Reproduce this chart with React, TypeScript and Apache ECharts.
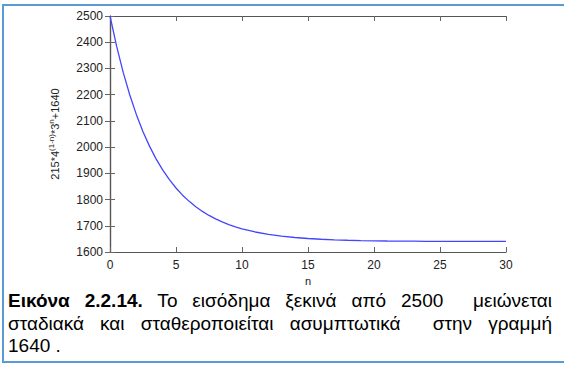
import React, { useEffect, useRef } from "react";
import * as echarts from "echarts";

const nValues = [0, 0.5, 1, 1.5, 2, 2.5, 3, 3.5, 4, 4.5, 5, 5.5, 6, 6.5, 7, 7.5, 8, 8.5, 9, 9.5, 10, 11, 12, 13, 14, 15, 16, 17, 18, 19, 20, 21, 22, 23, 24, 25, 26, 27, 28, 29, 30];
const incomeValues = [2500, 2384.8, 2285, 2198.6, 2123.8, 2058.9, 2002.8, 1954.2, 1912.1, 1875.7, 1844.1, 1816.7, 1793.1, 1772.6, 1754.8, 1739.4, 1726.1, 1714.6, 1704.6, 1695.9, 1688.4, 1676.3, 1667.2, 1660.4, 1655.3, 1651.5, 1648.6, 1646.5, 1644.8, 1643.6, 1642.7, 1642.0, 1641.5, 1641.2, 1640.9, 1640.6, 1640.5, 1640.4, 1640.3, 1640.2, 1640.2];
const xName = "n";
const captionBold = "Εικόνα 2.2.14.";
const captionLine1 = " Το εισόδημα ξεκινά από 2500  μειώνεται";
const captionLine2 = "σταδιακά και σταθεροποιείται ασυμπτωτικά  στην γραμμή";
const captionLine3 = "1640 .";

const axisFont = "'Liberation Sans', Arial, sans-serif";

export default function App() {
  const ref = useRef<HTMLDivElement>(null);
  useEffect(() => {
    if (!ref.current) return;
    const chart = echarts.init(ref.current, undefined, { renderer: "svg" });
    const lineStyle = { color: "#555", width: 1.2 };
    const tick = { show: true, inside: true, length: 5, lineStyle: { color: "#666", width: 1 } };
    const label = { color: "#222", fontSize: 12, fontFamily: axisFont, formatter: (v: number) => String(v) };
    chart.setOption({
      animation: false,
      grid: { left: 110, top: 16, right: 58, bottom: 115, show: false },
      xAxis: [
        {
          type: "value", min: 0, max: 30, interval: 5, position: "bottom",
          name: xName, nameLocation: "middle", nameGap: 22,
          nameTextStyle: { color: "#222", fontSize: 11, fontFamily: axisFont },
          axisLine: { show: true, lineStyle }, axisTick: tick,
          axisLabel: { ...label, margin: 7 }, splitLine: { show: false },
        },
        {
          type: "value", min: 0, max: 30, interval: 5, position: "top",
          axisLine: { show: true, lineStyle }, axisTick: tick,
          axisLabel: { show: false }, splitLine: { show: false },
        },
      ],
      yAxis: [
        {
          type: "value", min: 1600, max: 2500, interval: 100, position: "left",
          name: "{b|215*4}{s|(1-n)}{b|*3}{s|n}{b|+1640}",
          nameLocation: "middle", nameGap: 47, nameRotate: 90,
          nameTextStyle: {
            color: "#222", fontFamily: axisFont,
            rich: {
              b: { fontSize: 11, fontFamily: axisFont, color: "#222" },
              s: { fontSize: 8, fontFamily: axisFont, color: "#222", verticalAlign: "top", lineHeight: 16 },
            },
          },
          axisLine: { show: true, lineStyle }, axisTick: tick,
          axisLabel: { ...label, margin: 7 }, splitLine: { show: false },
        },
        {
          type: "value", min: 1600, max: 2500, interval: 100, position: "right",
          axisLine: { show: true, lineStyle }, axisTick: tick,
          axisLabel: { show: false }, splitLine: { show: false },
        },
      ],
      series: [
        {
          type: "line",
          data: nValues.map((n, i) => [n, incomeValues[i]]),
          smooth: false,
          showSymbol: false,
          lineStyle: { color: "#4545ff", width: 1.3 },
        },
      ],
    });
    return () => chart.dispose();
  }, []);

  const border = "#5b9bd5";
  const lineBox: React.CSSProperties = { height: 22.5, whiteSpace: "pre-wrap" };
  return (
    <div style={{ position: "absolute", left: 0, top: 0, width: 564, height: 367, background: "#fff", overflow: "hidden" }}>
      <div ref={ref} style={{ position: "absolute", left: 0, top: 0, width: 564, height: 367 }} />
      <div style={{ position: "absolute", left: 2, top: 4, width: 562, height: 2, background: border }} />
      <div style={{ position: "absolute", left: 2, top: 4, width: 2, height: 359, background: border }} />
      <div style={{ position: "absolute", left: 2, top: 361, width: 562, height: 2, background: border }} />
      <div
        style={{
          position: "absolute", left: 8, top: 290, width: 544,
          fontFamily: "'Liberation Sans', Arial, sans-serif", fontSize: 19, lineHeight: "22.5px", color: "#000",
        }}
      >
        <div style={{ ...lineBox, textAlign: "justify", textAlignLast: "justify" }}>
          <b>{captionBold}</b>{captionLine1}
        </div>
        <div style={{ ...lineBox, textAlign: "justify", textAlignLast: "justify" }}>{captionLine2}</div>
        <div style={lineBox}>{captionLine3}</div>
      </div>
    </div>
  );
}
